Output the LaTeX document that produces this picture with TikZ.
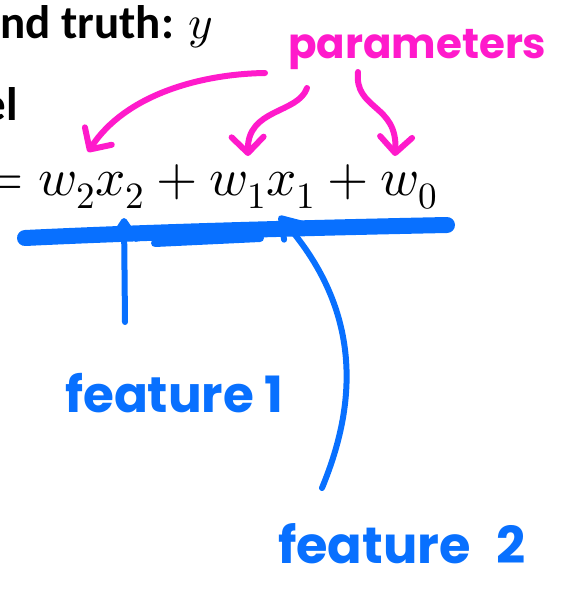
\documentclass[tikz,border=0pt]{standalone}
\usepackage{fontspec}
\usepackage{unicode-math}
\setmainfont{Carlito}
\setmathfont{Latin Modern Math}
\newfontfamily\handfont{Poppins}
\usepackage{xcolor}
\usetikzlibrary{arrows.meta}
\definecolor{inkpink}{HTML}{FF1ACB}
\definecolor{inkblue}{HTML}{0870FF}
\tikzset{
  slidetext/.style={
    font=\bfseries\fontsize{47}{52}\selectfont,
    inner sep=0pt, text=black
  },
  mathtext/.style={
    font=\fontsize{53}{60}\selectfont,
    inner sep=0pt, anchor=base west
  },
  handnote/.style={
    font=\handfont\bfseries\fontsize{#1}{#1}\selectfont,
    text=inkblue, inner sep=0pt, anchor=base west
  },
  handnote/.default=46,
  pinkarrow/.style={
    draw=inkpink, line width=6pt, line cap=round, line join=round,
    -{Straight Barb[round, length=16pt, width=32pt]}
  },
  bluearrow/.style={
    draw=inkblue, line width=6pt, line cap=round, line join=round,
    -{Straight Barb[round, length=18pt, width=24pt]}
  },
  bluestroke/.style={
    draw=inkblue, line width=#1, line cap=round, line join=round
  },
  bluestroke/.default=14pt,
}

\begin{document}
\begin{tikzpicture}[x=1pt, y=-1pt]
  \useasboundingbox (0,0) rectangle (571,589);
  \clip (0,0) rectangle (571,589);

  % slide text (cut at the left edge)
  \node[slidetext, anchor=base west] (truth) at (0,38) {nd truth: $y$};
  \node[slidetext, anchor=base east] (model) at (18,120) {el};
  \node[mathtext] (eqn) at (-18,195) {$= w_2x_2 + w_1x_1 + w_0$};

  % handwritten notes
  \node[handnote=42, text=inkpink] (param) at (288,58) {parameters};
  \node[handnote=50] (feat1) at (65,412) {feature 1};
  \node[handnote=51] (feat2) at (278,563) {feature\hspace{26pt}2};

  % anchor points of the strokes
  \coordinate (p1s) at (265,73);
  \coordinate (p1e) at (88,152);
  \coordinate (p2s) at (307,88);
  \coordinate (p2e) at (248,156);
  \coordinate (p3s) at (358,72);
  \coordinate (p3e) at (395,156);
  \coordinate (ulL) at (25,238);
  \coordinate (ulR) at (447,225);
  \coordinate (ul2L) at (155,243);
  \coordinate (ul2R) at (260,238);
  \coordinate (f1s) at (125,322);
  \coordinate (f1e) at (124,218);
  \coordinate (f2s) at (322,488);
  \coordinate (f2e) at (279,216);

  % parameter arrows
  \draw[pinkarrow] (p1s) .. controls (200,74) and (125,95) .. (p1e);
  \draw[pinkarrow] (p2s) .. controls (298,114) and (247,108) .. (p2e);
  \draw[pinkarrow] (p3s) .. controls (354,110) and (398,104) .. (p3e);

  % underline of the model
  \draw[bluestroke=16pt] (ulL) .. controls (150,232) and (300,228) .. (ulR);
  \draw[bluestroke=8pt] (ul2L) -- (ul2R);

  % feature arrows
  \draw[bluearrow] (f1s) -- (f1e);
  \draw[bluearrow] (f2s) .. controls (350,420) and (372,320) .. (f2e);
\end{tikzpicture}
\end{document}
